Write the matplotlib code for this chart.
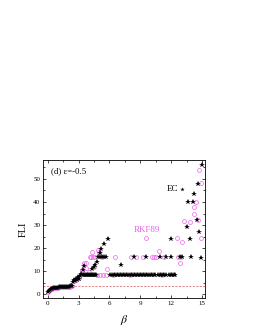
import matplotlib
matplotlib.use('Agg')
import matplotlib.pyplot as plt
from matplotlib.ticker import MultipleLocator

plt.rcParams['font.family'] = ['Liberation Serif', 'DejaVu Serif']
plt.rcParams['mathtext.fontset'] = 'stix'

# EC (black stars)
ec_beta = [0.0, 0.1, 0.2, 0.3, 0.4, 0.5, 0.6, 0.7, 0.8, 0.9, 1.0, 1.1, 1.2, 1.3, 1.4,
           1.5, 1.6, 1.7, 1.8, 1.9, 2.0, 2.1, 2.2, 2.3, 2.4,
           2.45, 2.55, 2.65, 2.75, 2.85, 2.95, 3.05, 3.15, 3.25,
           3.4, 3.5, 3.6, 3.7, 3.8, 3.9, 4.0, 4.1, 4.2, 4.3, 4.4, 4.5, 4.6, 4.7,
           3.45, 3.55, 4.33, 4.47, 4.6, 4.76, 4.92, 5.05, 5.19, 5.5, 5.9,
           5.1, 5.3, 5.5, 5.7,
           6.1, 6.25, 6.4, 6.55, 6.7, 6.85, 7.0, 7.15, 7.3, 7.45, 7.6, 7.75, 7.9, 8.05,
           8.2, 8.35, 8.5, 8.65, 8.8, 8.95, 9.1, 9.25, 9.4, 9.55, 9.7, 9.85, 10.0, 10.15,
           10.3, 10.45, 10.75, 10.9, 11.05, 11.2, 11.35, 11.5, 11.8, 11.95, 12.1, 12.25, 12.4,
           7.1, 8.4, 9.55, 10.9, 11.5, 12.0, 12.9, 13.1, 13.9, 14.95,
           12.03, 13.8, 13.5, 14.5, 14.7, 13.66, 14.1, 14.25, 14.6, 15.0]
ec_fli = [0.8, 1.6, 2.0, 2.3, 2.5, 2.6, 2.7, 2.75, 2.8, 2.85, 2.9, 2.95, 3.0, 3.0, 3.05,
          3.1, 3.1, 3.15, 3.2, 3.25, 3.3, 3.35, 3.4, 3.45, 3.5,
          5.2, 6.0, 5.6, 6.8, 6.2, 7.4, 6.6, 7.8, 8.9,
          8.3, 8.4, 8.2, 8.3, 8.4, 8.3, 8.2, 8.3, 8.4, 8.3, 8.2, 8.4, 8.3, 8.5,
          10.4, 12.2, 11.1, 11.8, 12.6, 14.0, 16.2, 17.8, 19.5, 21.9, 24.1,
          16.1, 16.0, 16.1, 16.0,
          8.3, 8.2, 8.4, 8.3, 8.2, 8.3, 8.4, 8.2, 8.3, 8.3, 8.4, 8.2, 8.3, 8.3,
          8.4, 8.2, 8.3, 8.3, 8.2, 8.4, 8.3, 8.3, 8.2, 8.4, 8.3, 8.3, 8.2, 8.3,
          8.4, 8.3, 8.2, 8.3, 8.4, 8.3, 8.2, 8.3, 8.3, 8.4, 8.2, 8.3, 8.3,
          12.6, 16.0, 16.0, 16.0, 16.1, 16.0, 16.2, 16.0, 16.0, 15.8,
          23.8, 24.0, 29.2, 32.0, 27.1, 40.2, 40.2, 43.5, 47.8, 56.0]

# RKF89 (magenta open circles)
rkf_beta = [0.0, 0.2, 0.4, 0.6, 0.8, 1.0, 1.2, 1.4, 1.6, 1.8, 2.0, 2.2, 2.4,
            2.5, 2.7, 2.85, 3.0, 3.36, 3.5, 3.72, 3.76, 4.0, 4.1, 4.2, 4.3, 4.4,
            4.53, 4.6, 4.75, 4.85, 4.95, 5.1, 5.3, 5.4, 5.73, 5.7,
            6.3, 6.55, 8.0, 8.1, 8.55, 9.3, 9.55, 10.1, 10.3, 10.5, 10.8, 11.15,
            11.3, 12.6, 12.7, 12.9, 13.0, 13.1, 13.3, 13.8, 14.2, 14.25, 14.4,
            14.6, 14.7, 14.9, 14.95]
rkf_fli = [0.9, 2.0, 2.5, 2.6, 2.8, 2.9, 3.0, 3.05, 3.1, 3.2, 3.25, 3.35, 3.5,
           5.6, 6.0, 7.2, 7.0, 10.5, 13.4, 13.5, 11.5, 9.6, 16.2, 16.3, 18.5, 16.0,
           11.8, 16.1, 8.4, 19.0, 18.5, 8.5, 16.0, 8.3, 10.8, 8.3,
           8.4, 16.2, 8.3, 16.0, 16.0, 16.1, 24.4, 16.0, 16.1, 16.0, 18.9, 8.4,
           16.0, 24.3, 16.0, 13.5, 16.1, 22.5, 31.8, 31.3, 35.0, 38.0, 40.2,
           32.2, 53.9, 48.1, 24.3]

threshold = 3.8
magenta = '#f060f0'

fig = plt.figure(figsize=(2.55, 3.3), dpi=100)
ax = fig.add_axes([0.169, 0.097, 0.635, 0.418])

ax.axhline(threshold, color='#d05050', lw=0.5, ls=(0, (3, 2)), zorder=1)
ax.plot(rkf_beta, rkf_fli, 'o', ms=2.8, mfc='none', mec=magenta, mew=0.5, zorder=2)
ax.plot(ec_beta, ec_fli, '*', ms=4, color='black', mew=0, zorder=3)

ax.set_xlim(-0.46, 15.3)
ax.set_ylim(-1.6, 58.2)
ax.xaxis.set_major_locator(MultipleLocator(3))
ax.xaxis.set_minor_locator(MultipleLocator(1.5))
ax.yaxis.set_major_locator(MultipleLocator(10))
ax.yaxis.set_minor_locator(MultipleLocator(5))
ax.tick_params(which='both', direction='in', top=True, right=True, labelsize=5,
               width=0.5, pad=2)
ax.tick_params(which='major', length=2.5)
ax.tick_params(which='minor', length=1.3)
for s in ax.spines.values():
    s.set_linewidth(0.6)

ax.set_xlabel(r'$\beta$', fontsize=8.5, labelpad=5)
ax.set_ylabel('FLI', fontsize=7.5, labelpad=4)

ax.text(0.3, 53.5, '(d) ε=-0.5', fontsize=6.3, va='center')
ax.text(11.6, 45.5, 'EC', fontsize=6.5, va='center')
ax.plot([13.1], [45.5], '*', ms=3.2, color='black', mew=0)
ax.text(9.6, 28.0, 'RKF89', fontsize=6.5, va='center', ha='center', color=magenta)

fig.savefig('out.png', dpi=100)
